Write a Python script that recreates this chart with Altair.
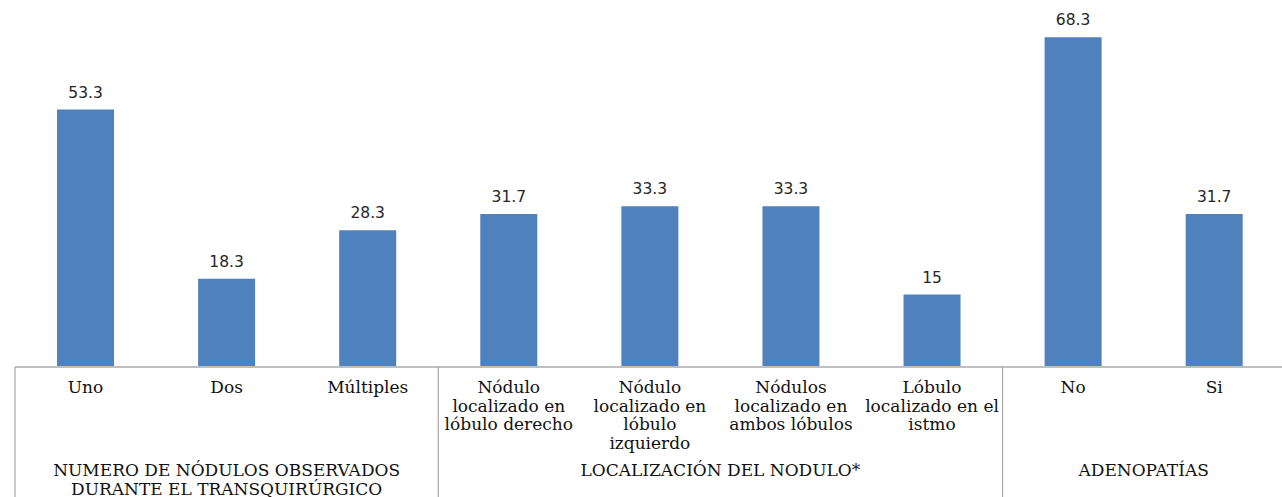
import altair as alt
import pandas as pd

# Bar categories (in display order), their percentages and the group each belongs to
categories = [
    "Uno", "Dos", "Múltiples",
    "Nódulo\nlocalizado en\nlóbulo derecho",
    "Nódulo\nlocalizado en\nlóbulo\nizquierdo",
    "Nódulos\nlocalizado en\nambos lóbulos",
    "Lóbulo\nlocalizado en el\nistmo",
    "No", "Si",
]
values = [53.3, 18.3, 28.3, 31.7, 33.3, 33.3, 15, 68.3, 31.7]
value_labels = ["53.3", "18.3", "28.3", "31.7", "33.3", "33.3", "15", "68.3", "31.7"]

group_names = [
    "NUMERO DE NÓDULOS OBSERVADOS\nDURANTE EL TRANSQUIRÚRGICO",
    "LOCALIZACIÓN DEL NODULO*",
    "ADENOPATÍAS",
]
group_sizes = [3, 4, 2]

bars = pd.DataFrame({
    "pos": [i + 0.5 for i in range(len(categories))],
    "label": categories,
    "value": values,
    "text": value_labels,
})

starts = [sum(group_sizes[:i]) for i in range(len(group_sizes))]
groups = pd.DataFrame({
    "name": group_names,
    "center": [s + n / 2 for s, n in zip(starts, group_sizes)],
})
bounds = pd.DataFrame({"b": starts + [sum(group_sizes)]})

n = len(categories)
PLOT_W = 1272
STEP = 142.2  # pixel width of one category slot; the last slot runs past the right edge
x_scale = alt.Scale(domain=[0, PLOT_W / STEP], nice=False, zero=False)
y_scale = alt.Scale(domain=[0, 76], nice=False)

PLOT_H = 367
BAR_COLOR = "#4F81BD"
AXIS_COLOR = "#BFBFBF"
SEP_COLOR = "#A6A6A6"
SERIF = "DejaVu Serif"

base = alt.Chart(bars)

bar_layer = base.mark_bar(size=57, color=BAR_COLOR).encode(
    x=alt.X("pos:Q", scale=x_scale, axis=None),
    y=alt.Y("value:Q", scale=y_scale, axis=None),
)

value_text = base.mark_text(
    font="DejaVu Sans", fontSize=15.5, color="#262626", baseline="middle", dy=-17
).encode(
    x=alt.X("pos:Q", scale=x_scale),
    y=alt.Y("value:Q", scale=y_scale),
    text="text:N",
)

cat_text = base.mark_text(
    font=SERIF, fontSize=17, color="#111111", baseline="top",
    lineBreak="\n", lineHeight=18.5, align="center",
).encode(
    x=alt.X("pos:Q", scale=x_scale),
    y=alt.value(PLOT_H + 13),
    text="label:N",
)

axis_line = alt.Chart(pd.DataFrame({"a": [0], "b": [n]})).mark_rule(
    color=AXIS_COLOR, strokeWidth=2
).encode(
    x=alt.X("a:Q", scale=x_scale),
    x2="b:Q",
    y=alt.value(PLOT_H),
)

separators = alt.Chart(bounds).mark_rule(color=SEP_COLOR, strokeWidth=1.2).encode(
    x=alt.X("b:Q", scale=x_scale),
    y=alt.value(PLOT_H),
    y2=alt.value(PLOT_H + 140),
)

group_text = alt.Chart(groups).mark_text(
    font=SERIF, fontSize=17, color="#111111", baseline="top",
    lineBreak="\n", lineHeight=19, align="center",
).encode(
    x=alt.X("center:Q", scale=x_scale),
    y=alt.value(PLOT_H + 96),
    text="name:N",
)

chart = alt.layer(
    bar_layer, value_text, axis_line, separators, cat_text, group_text
).properties(
    width=PLOT_W,
    height=PLOT_H,
    autosize=alt.AutoSizeParams(type="none"),
    padding={"left": 10, "top": 0, "right": 0, "bottom": 130},
    background="white",
).configure_view(stroke=None)

chart.save("out.html", embed_options={"renderer": "svg", "actions": False})
